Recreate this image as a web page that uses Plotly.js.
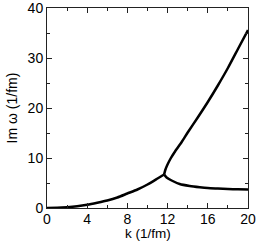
<!DOCTYPE html>
<html>
<head>
<meta charset="utf-8">
<script src="https://cdn.plot.ly/plotly-3.0.1.min.js"></script>
<style>html,body{margin:0;padding:0;background:#fff;}#chart{width:256px;height:242px;}</style>
</head>
<body>
<div id="chart"></div>
<script>
// Lower branch (k from 0 to bifurcation)
const kLow  = [0, 1, 2, 3, 4, 5, 6, 7, 8, 9, 10, 11, 11.65];
const imLow = [0, 0.03, 0.15, 0.35, 0.65, 1.05, 1.5, 2.1, 2.9, 3.7, 4.7, 5.9, 6.7];
// Upper branch after bifurcation
const kUp  = [11.65, 11.77, 11.97, 12.3, 12.74, 13.4, 14, 15, 16, 17, 18, 19, 20];
const imUp = [6.7, 7.6, 8.6, 9.9, 11.3, 13.2, 15.1, 18.1, 21.2, 24.5, 28.0, 31.8, 35.6];
// Decreasing branch after bifurcation
const kDec  = [11.65, 11.9, 12.4, 13.2, 14.2, 15.2, 16, 17, 18, 19, 20];
const imDec = [6.7, 6.1, 5.5, 4.8, 4.4, 4.15, 4.0, 3.9, 3.8, 3.75, 3.7];

const xTicks = [0, 4, 8, 12, 16, 20];
const yTicks = [0, 10, 20, 30, 40];
const xTitle = 'k (1/fm)';
const yTitle = 'Im ω (1/fm)';

const lineStyle = {color: '#000', width: 2.5, shape: 'spline', smoothing: 0.6};
const traces = [
  {x: kLow, y: imLow, mode: 'lines', line: lineStyle, hoverinfo: 'skip'},
  {x: kUp, y: imUp, mode: 'lines', line: lineStyle, hoverinfo: 'skip'},
  {x: kDec, y: imDec, mode: 'lines', line: lineStyle, hoverinfo: 'skip'}
];

const font = {family: 'Liberation Sans, Arial, sans-serif', size: 14, color: '#000'};
const axisCommon = {
  showgrid: false, zeroline: false, showline: true, linecolor: '#222', linewidth: 1,
  mirror: 'allticks', ticks: 'inside', ticklen: 5, tickwidth: 1, tickcolor: '#222',
  tickfont: font, ticklabeloverflow: 'allow', automargin: false
};

const layout = {
  width: 256, height: 242,
  margin: {l: 47, r: 8, t: 8, b: 34},
  paper_bgcolor: '#fff', plot_bgcolor: '#fff',
  showlegend: false,
  font: font,
  xaxis: Object.assign({}, axisCommon, {
    range: [0, 20], tickvals: xTicks, ticktext: xTicks.map(String),
    ticklabelstandoff: -2,
    minor: {dtick: 2, ticklen: 3, ticks: 'inside', tickcolor: '#222'}
  }),
  yaxis: Object.assign({}, axisCommon, {
    range: [0, 40], tickvals: yTicks, ticktext: yTicks.map(String),
    minor: {dtick: 5, ticklen: 3, ticks: 'inside', tickcolor: '#222'},
    title: {text: yTitle, font: font, standoff: 6}
  }),
  annotations: [{
    text: xTitle, xref: 'paper', yref: 'paper', x: 0.5, y: -0.128,
    xanchor: 'center', yanchor: 'middle', showarrow: false,
    font: {family: font.family, size: 13.5, color: '#000'}
  }]
};

Plotly.newPlot('chart', traces, layout, {staticPlot: true, displayModeBar: false});
</script>
</body>
</html>
